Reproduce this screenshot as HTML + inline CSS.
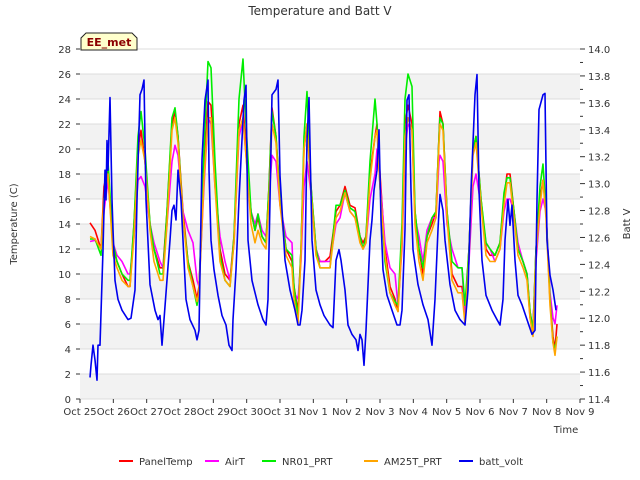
<!DOCTYPE html>
<html><head><meta charset="utf-8"><style>
body{margin:0;background:#fff;}
svg{display:block;font-family:"DejaVu Sans","Liberation Sans",sans-serif;}
</style></head><body>
<svg id="chart" width="640" height="480" viewBox="0 0 640 480">
<text x="320" y="15" text-anchor="middle" font-size="12" fill="#333">Temperature and Batt V</text>
<g id="bands"></g>
<g id="grid"></g>
<g id="axes"></g>
<g id="series"></g>
<text transform="translate(17,224) rotate(-90)" text-anchor="middle" font-size="10" fill="#333">Temperature (C)</text>
<text transform="translate(630,224) rotate(-90)" text-anchor="middle" font-size="10" fill="#333">Batt V</text>
<text x="566" y="433" text-anchor="middle" font-size="10" fill="#333">Time</text>
<g>
<path d="M81,50 L81,38 L86,33 L132,33 L137,38 L137,50 Z" fill="#ffffcc" stroke="#222" stroke-width="1"/>
<text x="109" y="46" text-anchor="middle" font-size="11" font-weight="bold" fill="#8b0000">EE_met</text>
</g>
<g id="legend"></g>
</svg>
<script>
const tempTimes=[0.30,0.45,0.63,0.72,0.84,0.99,1.11,1.26,1.44,1.50,1.62,1.74,1.83,1.95,2.10,2.22,2.40,2.49,2.61,2.76,2.85,2.94,3.09,3.24,3.39,3.51,3.57,3.72,3.84,3.93,4.05,4.20,4.35,4.50,4.62,4.77,4.89,4.98,5.13,5.25,5.34,5.46,5.58,5.67,5.76,5.88,6.00,6.18,6.36,6.42,6.54,6.63,6.72,6.81,6.93,7.08,7.20,7.35,7.50,7.68,7.80,7.95,8.10,8.25,8.40,8.49,8.58,8.70,8.85,8.91,9.00,9.15,9.30,9.45,9.54,9.66,9.75,9.84,9.96,10.05,10.17,10.29,10.41,10.56,10.68,10.77,10.80,10.89,11.01,11.16,11.34,11.46,11.55,11.67,11.79,11.88,12.03,12.18,12.30,12.45,12.60,12.72,12.81,12.90,13.02,13.14,13.29,13.41,13.50,13.59,13.68,13.80,13.89,13.98,14.10,14.19,14.25,14.31];
const panelTemp=[14.1,13.5,12,17,18.5,12,11,10,9,9,14,20,21.5,19,14,12,10.5,10.5,15,22,23,21,15,11,9.5,8,9,18,23.8,23.5,18,12,10,9.5,13,22,23.5,20,15,13.5,14.5,13,12.5,17,23.3,21,16,12,11,9,7,12,20,22,17,12,11,11,11.4,15,15.5,17,15.5,15.3,13,12.5,13,18,21,22,18,12,9,8,7,13,22,23.5,22,15,12,10,13,14,15,21,23,22,15,10,9,9,7,12,20,21,16,12,11.5,11.5,12.5,16,18,18,15,12,11,10,7,5.5,12,16,17.5,15,8,5,4,6];
const airT=[12.6,12.7,12,15,17.5,12.5,11.5,11,10,10,13,17.5,17.8,17,14,12.5,11,10.5,14,19,20.3,19.5,15,13.5,12.5,9.5,9,17,22.5,22,17,13,11,9.5,12.5,21,22.3,19.5,15,14,14.8,13.5,13,16,19.5,19,15.5,13,12.5,8.5,8,11,17,19,16.5,12,11,11,11,14,14.5,16.5,15,14.5,13,12,12.5,16,18,20,17.5,12.5,10.5,10,7.5,12,20,22,21.5,14.5,13,11,13.5,14.5,14.5,19,19.5,19,14,12,10.5,10.5,6.5,11,17,18,15.5,12.5,12,11,12,15,16,16,15,12.5,11,10,6.5,6,11,15,16,15,8.5,6.5,6,7.5];
const nr01=[12.8,12.8,11.5,16,19,12.5,11,10,9.5,9.5,14,21,23,20,14,12,10,10,15,22.5,23.3,21,14.5,11,9,7.5,8.5,20,27,26.5,19,11.5,9.5,9,13,24,27.2,22,15,13.5,14.8,13,12.5,17,23,21,16,12,11.5,9,6.5,12,21,24.6,17,12,10.5,10.5,10.5,15.5,15.5,16.7,15.3,15,13,12,13,19,24,22,17,11,8.5,7.8,7.5,14,24,26,25,15,12,10.5,13,14.5,15,21,22.5,22,15,11,10.5,10.5,7.5,12,20,21,16,12.5,12,11.5,12.5,16.5,17.7,17.7,15,12,11,10,7,5.5,12,17,18.8,15,8,4.5,4,5];
const am25t=[13,12.8,12,16,18,11.5,10.5,9.5,9,9,13,19.5,20.7,19,13.5,11,9.5,9.5,14,21.5,22.5,20.5,14.5,10.5,9,7.8,8.5,17.5,22.5,22.5,17,11,9.5,9,12.5,21.5,22.5,19.5,14,12.5,13.5,12.5,12,16,22,20.5,15.5,11.5,10.5,8,6,11.5,20,22,16.5,11.5,10.5,10.5,10.5,14.5,15,16.5,15,14.5,12.5,12,12.5,17.5,21,21.5,17,11.5,8.5,7.5,7,12.5,21,22.5,21.5,14,11,9.5,12.5,13.5,14.5,20.5,22,21.5,14.5,9.5,8.5,8.5,6,11.5,19.5,20.5,15.5,11.5,11,11,12,15.5,17.3,17.3,14.5,11.5,10.5,9.5,6.5,5,11.5,15.5,17.5,14.5,7.5,4.5,3.5,5];
const battTimes=[0.30,0.33,0.39,0.45,0.51,0.54,0.60,0.69,0.75,0.78,0.81,0.84,0.90,0.96,0.99,1.05,1.14,1.26,1.44,1.53,1.65,1.71,1.80,1.86,1.92,1.98,2.10,2.25,2.34,2.40,2.46,2.52,2.70,2.76,2.82,2.88,2.94,3.03,3.09,3.18,3.30,3.45,3.51,3.57,3.66,3.75,3.84,3.87,3.93,4.02,4.14,4.26,4.38,4.47,4.56,4.59,4.68,4.77,4.83,4.92,4.98,5.04,5.16,5.34,5.49,5.58,5.64,5.70,5.76,5.88,5.94,6.00,6.15,6.30,6.45,6.54,6.60,6.66,6.75,6.81,6.87,6.96,7.08,7.20,7.32,7.50,7.59,7.68,7.77,7.83,7.95,8.04,8.16,8.28,8.34,8.40,8.46,8.52,8.58,8.70,8.76,8.82,8.91,8.97,9.03,9.09,9.21,9.36,9.51,9.60,9.66,9.75,9.81,9.87,9.93,9.99,10.14,10.29,10.44,10.56,10.65,10.74,10.80,10.89,10.95,11.10,11.25,11.40,11.55,11.64,11.73,11.85,11.91,11.97,12.06,12.18,12.36,12.51,12.60,12.69,12.75,12.84,12.90,12.96,13.05,13.14,13.26,13.41,13.56,13.65,13.71,13.77,13.89,13.95,14.01,14.10,14.19,14.28];
const battVolt=[11.56,11.65,11.80,11.69,11.54,11.80,11.80,12.51,13.10,12.88,13.32,13.10,13.64,12.88,12.66,12.28,12.14,12.06,11.99,12.00,12.21,12.88,13.66,13.70,13.77,12.88,12.25,12.06,11.99,12.02,11.80,11.99,12.58,12.80,12.84,12.73,13.10,12.88,12.58,12.14,11.99,11.91,11.84,11.91,13.18,13.62,13.77,13.10,12.58,12.36,12.17,12.02,11.95,11.80,11.76,11.99,12.36,12.88,13.18,13.62,13.73,12.58,12.28,12.10,11.99,11.95,12.14,12.88,13.66,13.70,13.77,13.06,12.43,12.21,12.06,11.95,11.95,12.06,12.43,13.32,13.64,12.58,12.21,12.10,12.02,11.95,11.93,12.43,12.51,12.43,12.21,11.95,11.88,11.84,11.76,11.88,11.84,11.65,11.91,12.58,12.73,12.95,13.10,13.40,12.73,12.36,12.17,12.06,11.95,11.95,12.06,12.66,13.62,13.66,12.95,12.51,12.25,12.10,11.99,11.80,12.14,12.66,12.92,12.80,12.58,12.25,12.06,11.99,11.95,12.21,12.95,13.66,13.81,12.95,12.43,12.17,12.06,11.99,11.95,12.14,12.58,12.88,12.69,12.84,12.43,12.17,12.10,11.99,11.88,11.91,12.88,13.55,13.66,13.67,12.58,12.32,12.21,12.06];
const xTickLabels=["Oct 25","Oct 26","Oct 27","Oct 28","Oct 29","Oct 30","Oct 31","Nov 1","Nov 2","Nov 3","Nov 4","Nov 5","Nov 6","Nov 7","Nov 8","Nov 9"];
const yTicks=[0,2,4,6,8,10,12,14,16,18,20,22,24,26,28];
const y2Ticks=[11.4,11.6,11.8,12.0,12.2,12.4,12.6,12.8,13.0,13.2,13.4,13.6,13.8,14.0];

const L=80,R=580,T=49,B=399;
const xS=d=>L+(R-L)*d/15;
const yS=v=>B-(B-T)*v/28;
const y2S=v=>B-(B-T)*(v-11.4)/2.6;
const NS="http://www.w3.org/2000/svg";
function mk(tag,attrs,parent){const e=document.createElementNS(NS,tag);for(const k in attrs)e.setAttribute(k,attrs[k]);parent.appendChild(e);return e;}
const bands=document.getElementById('bands'),grid=document.getElementById('grid'),axes=document.getElementById('axes'),series=document.getElementById('series'),legend=document.getElementById('legend');
for(let v=2;v<=28;v+=4){
  const r=mk('rect',{x:L,y:yS(v),width:R-L,height:yS(v-2)-yS(v),fill:'#f2f2f2'},bands);
  
  
}
yTicks.forEach(v=>{
  const g=mk('line',{x1:L,x2:R,y1:yS(v),y2:yS(v),stroke:'#dcdcdc','stroke-width':1},grid);
  
  
  const tk=mk('line',{x1:L-4,x2:L,y1:yS(v),y2:yS(v),stroke:'#333'},axes);
  
  
  const t=mk('text',{x:L-9,y:yS(v)+4,'text-anchor':'end','font-size':10,fill:'#333'},axes);
  t.textContent=v;
  
  
});
y2Ticks.forEach((v,i)=>{
  const tk=mk('line',{x1:R,x2:R+5,y1:y2S(v),y2:y2S(v),stroke:'#333'},axes);
  
  
  if(i<y2Ticks.length-1){
    const m=mk('line',{x1:R,x2:R+3,y1:y2S(v+0.1),y2:y2S(v+0.1),stroke:'#333'},axes);
    
    
  }
  const t=mk('text',{x:R+8,y:y2S(v)+4,'font-size':10,fill:'#333'},axes);
  t.textContent=v.toFixed(1);
  
  
});
xTickLabels.forEach((s,i)=>{
  const tk=mk('line',{x1:xS(i),x2:xS(i),y1:B,y2:B+4,stroke:'#333'},axes);
  
  
  const t=mk('text',{x:xS(i),y:B+16,'text-anchor':'middle','font-size':10,fill:'#333'},axes);
  t.textContent=s;
  
  
});
function line(times,vals,scale,color,name){
  const n=Math.min(times.length,vals.length);
  let d='';
  for(let i=0;i<n;i++)d+=(i?'L':'M')+xS(times[i]).toFixed(1)+','+scale(vals[i]).toFixed(1);
  const p=mk('path',{d:d,fill:'none',stroke:color,'stroke-width':1.6,'stroke-linejoin':'round'},series);
  
  
}
line(tempTimes,panelTemp,yS,'#ff0000','panel-temp-line');
line(tempTimes,airT,yS,'#ff00ff','air-t-line');
line(tempTimes,nr01,yS,'#00ee00','nr01-prt-line');
line(tempTimes,am25t,yS,'#ffa500','am25t-prt-line');
line(battTimes,battVolt,y2S,'#0000ee','batt-volt-line');
const leg=[['PanelTemp','#ff0000',119],['AirT','#ff00ff',205],['NR01_PRT','#00ee00',262],['AM25T_PRT','#ffa500',364],['batt_volt','#0000ee',459]];
leg.forEach(([s,c,x])=>{
  const g=mk('g',{},legend);
  
  
  mk('line',{x1:x,x2:x+14,y1:461,y2:461,stroke:c,'stroke-width':2},g);
  const t=mk('text',{x:x+20,y:465,'font-size':10,fill:'#333'},g);
  t.textContent=s;
});
</script>
</body></html>
